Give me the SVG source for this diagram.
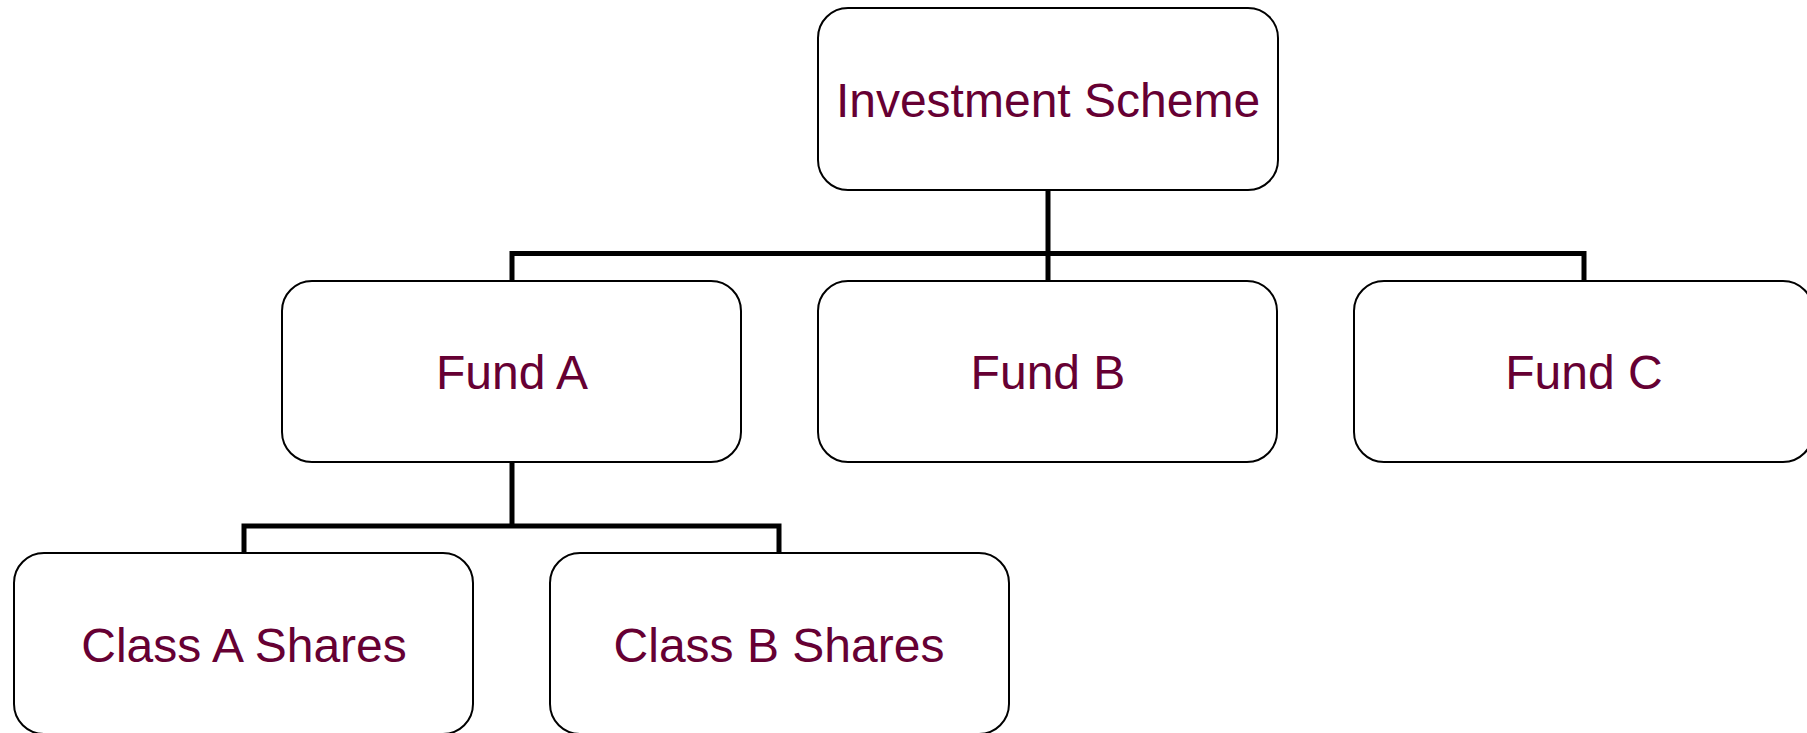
<svg xmlns="http://www.w3.org/2000/svg" width="1807" height="733" viewBox="0 0 1807 733">
  <style>
    .box { fill: #ffffff; stroke: #000000; stroke-width: 2; }
    .label { font-family: "Liberation Sans", Arial, Helvetica, sans-serif; font-size: 48px; fill: #660033; text-anchor: middle; }
    .wire { fill: none; stroke: #000000; stroke-width: 5; stroke-linecap: butt; stroke-linejoin: miter; }
  </style>
  <rect width="1807" height="733" fill="#ffffff"/>

  <!-- org-chart connectors -->
  <g id="connectors">
    <path class="wire" d="M1048 190 V281"/>
    <path class="wire" d="M512 281 V253.5 H1584 V281"/>
    <path class="wire" d="M512 462 V526"/>
    <path class="wire" d="M244 553 V526 H779 V553"/>
  </g>

  <g id="investment-scheme">
    <rect class="box" x="818" y="8" width="460" height="182" rx="30" ry="30"/>
    <text class="label" x="1048" y="117">Investment Scheme</text>
  </g>

  <g id="fund-a">
    <rect class="box" x="282" y="281" width="459" height="181" rx="30" ry="30"/>
    <text class="label" x="512" y="389">Fund A</text>
  </g>

  <g id="fund-b">
    <rect class="box" x="818" y="281" width="459" height="181" rx="30" ry="30"/>
    <text class="label" x="1048" y="389">Fund B</text>
  </g>

  <g id="fund-c">
    <rect class="box" x="1354" y="281" width="459" height="181" rx="30" ry="30"/>
    <text class="label" x="1584" y="389">Fund C</text>
  </g>

  <g id="class-a-shares">
    <rect class="box" x="14" y="553" width="459" height="181" rx="30" ry="30"/>
    <text class="label" x="244" y="662">Class A Shares</text>
  </g>

  <g id="class-b-shares">
    <rect class="box" x="550" y="553" width="459" height="181" rx="30" ry="30"/>
    <text class="label" x="779" y="662">Class B Shares</text>
  </g>
</svg>
